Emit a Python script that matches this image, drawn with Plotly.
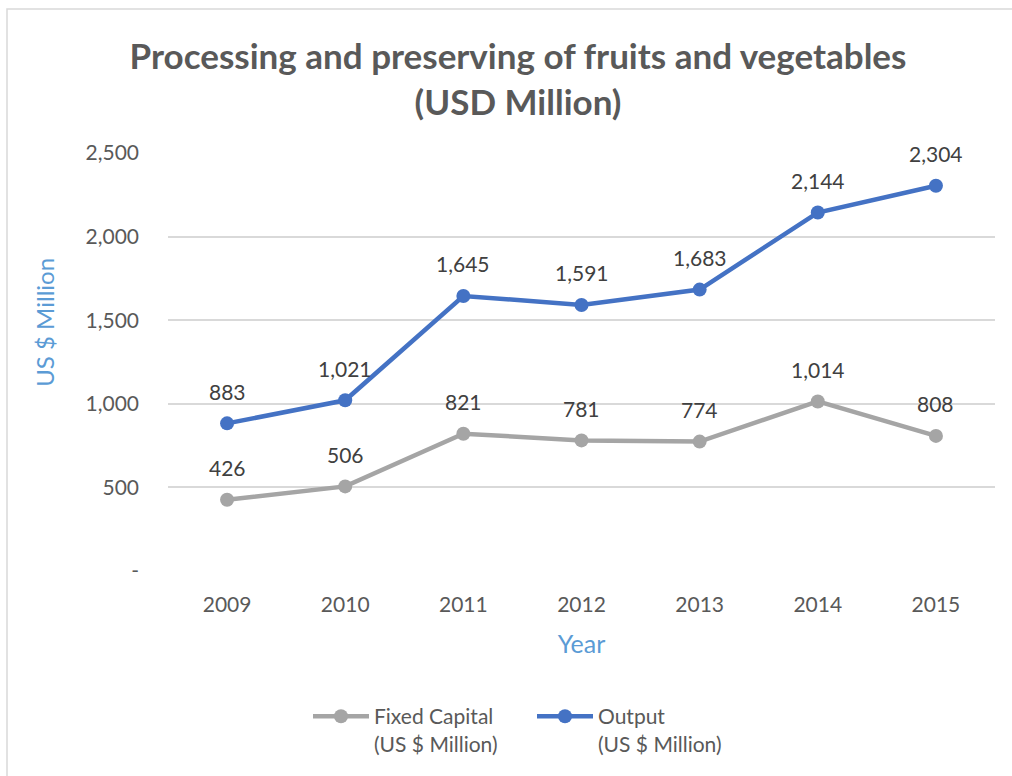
import plotly.graph_objects as go

years = ["2009", "2010", "2011", "2012", "2013", "2014", "2015"]
fixed_capital = [426, 506, 821, 781, 774, 1014, 808]
output = [883, 1021, 1645, 1591, 1683, 2144, 2304]
y_tick_vals = [0, 500, 1000, 1500, 2000, 2500]
y_tick_text = ["-", "500", "1,000", "1,500", "2,000", "2,500"]

FONT = "Lato, 'Open Sans', sans-serif"
GRAY_TXT = "#595959"
LABEL_TXT = "#404040"
BLUE_TXT = "#5B9BD5"

def fmt(v):
    return f"{v:,}"

fig = go.Figure()
series = [
    ("Fixed Capital<br>(US $ Million)", fixed_capital, "#A5A5A5"),
    ("Output<br>(US $ Million)", output, "#4472C4"),
]
for name, vals, color in series:
    fig.add_trace(go.Scatter(
        x=years, y=vals, mode="lines+markers", name=name,
        line=dict(color=color, width=4.5),
        marker=dict(color=color, size=14),
        cliponaxis=False,
    ))
    for i, v in enumerate(vals):
        fig.add_annotation(
            x=i, y=v, xref="x", yref="y", text=fmt(v), showarrow=False, yshift=32,
            font=dict(size=21, color=LABEL_TXT, family=FONT),
            xanchor="center", yanchor="middle",
        )

L, R, T, B = 168, 17, 153, 202
W, H = 1012, 776
pw = W - L - R
ph = H - T - B

# y-axis title placed as a rotated annotation (offset upward like the reference)
fig.add_annotation(
    text="US $ Million", textangle=-90, showarrow=False,
    xref="paper", yref="paper",
    x=(45 - L) / pw, y=((H - B) - 324) / ph,
    xanchor="center", yanchor="middle",
    font=dict(size=24, color=BLUE_TXT, family=FONT),
)

fig.update_layout(
    width=W, height=H,
    margin=dict(l=L, r=R, t=T, b=B),
    paper_bgcolor="white", plot_bgcolor="white",
    font=dict(family=FONT, color=GRAY_TXT, size=18),
    title=dict(
        text="<b>Processing and preserving of fruits and vegetables<br>(USD Million)</b>",
        x=518 / W, xanchor="center", y=1 - 69 / H, yanchor="middle",
        font=dict(size=35, color=GRAY_TXT, family=FONT),
    ),
    xaxis=dict(
        type="category", showgrid=False, showline=False, ticks="",
        tickfont=dict(size=21, color=GRAY_TXT),
        ticklabelstandoff=19,
        title=dict(text="Year", font=dict(size=25, color=BLUE_TXT), standoff=20),
        range=[-0.5, 6.5],
    ),
    yaxis=dict(
        range=[0, 2500], tickvals=y_tick_vals, ticktext=y_tick_text,
        showgrid=True, gridcolor="#D9D9D9", gridwidth=1.5,
        zeroline=False, showline=False, ticks="",
        tickfont=dict(size=21, color=GRAY_TXT),
        ticklabelstandoff=28,
    ),
    legend=dict(
        orientation="h", x=(308 - L) / pw, xanchor="left",
        y=-(700 - (H - B)) / ph, yanchor="top",
        font=dict(size=21, color=GRAY_TXT),
        itemwidth=56, traceorder="normal", valign="top",
        entrywidth=153, entrywidthmode="pixels",
    ),
    showlegend=True,
)

# outer chart border (partially cropped in the reference)
fig.add_shape(
    type="rect", xref="paper", yref="paper",
    x0=(7 - L) / pw, x1=(W + 20 - L) / pw,
    y0=-(H + 20 - (H - B)) / ph, y1=((H - B) - 8) / ph,
    line=dict(color="#D9D9D9", width=1.5), fillcolor="rgba(0,0,0,0)",
    layer="below",
)

fig.write_html("out.html", config={"displayModeBar": False},
               post_script="document.body.style.margin='0';")
